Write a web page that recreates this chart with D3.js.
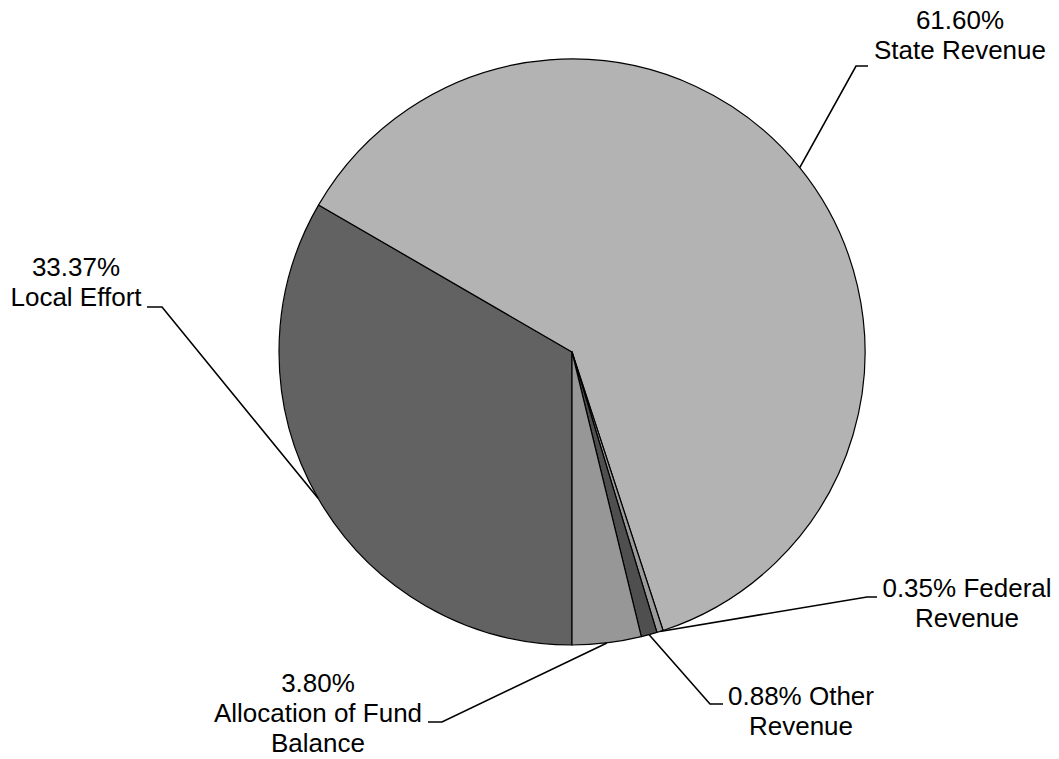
<!DOCTYPE html>
<html>
    <head>
        <style>
            body { margin: 0; background: #fff; }
            text { font-family: "Liberation Sans", Arial, sans-serif; font-size: 26px; fill: #000; }
        </style>
        <script src="https://cdnjs.cloudflare.com/ajax/libs/d3/7.8.5/d3.min.js"></script>
    </head>
    <body>
        <div id="chart"></div>
        <script>
            // slices, clockwise from 6 o'clock
            const names = ["Local Effort", "State Revenue", "Federal Revenue", "Other Revenue", "Allocation of Fund Balance"];
            const shares = [33.37, 61.60, 0.35, 0.88, 3.80];
            const labelLines = [
                ["33.37%", "Local Effort"],
                ["61.60%", "State Revenue"],
                ["0.35% Federal", "Revenue"],
                ["0.88% Other", "Revenue"],
                ["3.80%", "Allocation of Fund", "Balance"]
            ];
            const colors = ["#626262", "#b3b3b3", "#9a9a9a", "#4f4f4f", "#979797"];

            // where the labels sit: elbow, end of the short flat line, text centre, first baseline
            const labelLayout = [
                {ex: 162, ey: 307, hx: 147, tx: 76, ty: 276},
                {ex: 856, ey: 66, hx: 868, tx: 960, ty: 29},
                {ex: 867, ey: 597, hx: 877, tx: 967, ty: 597},
                {ex: 710, ey: 704, hx: 723, tx: 801, ty: 705},
                {ex: 442, ey: 722, hx: 428, tx: 318, ty: 692}
            ];

            const w = 1059, h = 759;
            const cx = 572, cy = 352, r = 293;

            const svg = d3.select("#chart").append("svg")
                .attr("width", w)
                .attr("height", h);

            const pie = d3.pie()
                .sort(null)
                .value(d => d)
                .startAngle(Math.PI)
                .endAngle(3 * Math.PI);

            const arcs = pie(shares);
            const arc = d3.arc().innerRadius(0).outerRadius(r);

            const g = svg.append("g").attr("transform", `translate(${cx},${cy})`);

            g.selectAll("path")
                .data(arcs)
                .enter()
                .append("path")
                .attr("d", arc)
                .attr("fill", (d, i) => colors[i])
                .attr("stroke", "#000")
                .attr("stroke-width", 1.2)
                .attr("stroke-linejoin", "round");

            // leader lines from the slice edge to the label
            arcs.forEach((d, i) => {
                const a = (d.startAngle + d.endAngle) / 2;
                const px = cx + r * Math.sin(a), py = cy - r * Math.cos(a);
                const L = labelLayout[i];
                svg.append("polyline")
                    .attr("points", `${px},${py} ${L.ex},${L.ey} ${L.hx},${L.ey}`)
                    .attr("fill", "none")
                    .attr("stroke", "#000")
                    .attr("stroke-width", 1.6);

                const t = svg.append("text")
                    .attr("text-anchor", "middle")
                    .attr("x", L.tx)
                    .attr("y", L.ty);
                labelLines[i].forEach((s, k) => {
                    t.append("tspan")
                        .attr("x", L.tx)
                        .attr("y", L.ty + k * 30)
                        .text(s);
                });
            });
        </script>
    </body>
</html>
